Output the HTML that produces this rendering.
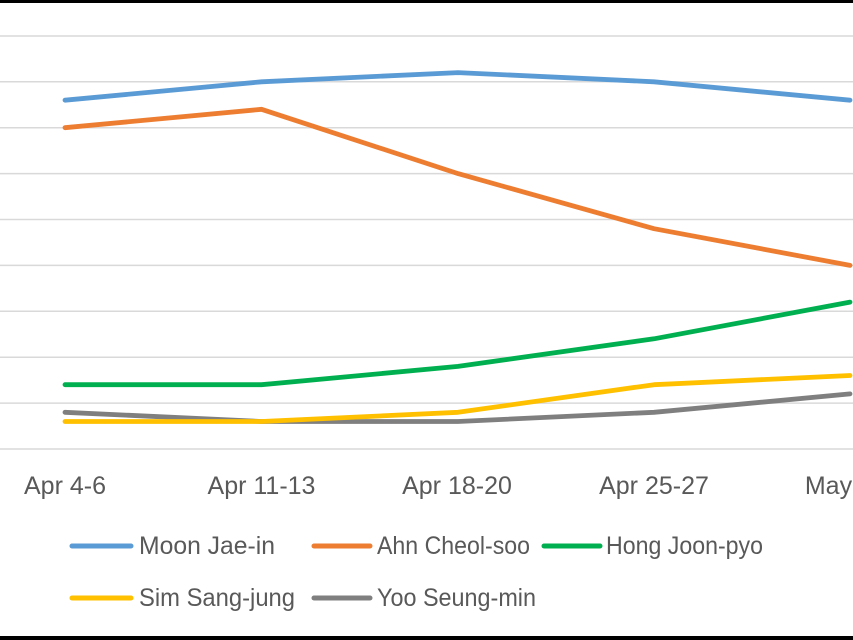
<!DOCTYPE html>
<html>
<head>
<meta charset="utf-8">
<style>
html,body{margin:0;padding:0;background:#fff;}
body{width:853px;height:640px;overflow:hidden;position:relative;}
svg{display:block;}
text{font-family:"Liberation Sans",sans-serif;font-size:25px;fill:#595959;}
</style>
</head>
<body>
<svg width="853" height="640" viewBox="0 0 853 640" xmlns="http://www.w3.org/2000/svg">
<rect x="0" y="0" width="853" height="640" fill="#fff"/>
<g stroke="#d9d9d9" stroke-width="1.5">
<line x1="0" y1="36" x2="853" y2="36"/>
<line x1="0" y1="81.8" x2="853" y2="81.8"/>
<line x1="0" y1="127.7" x2="853" y2="127.7"/>
<line x1="0" y1="173.6" x2="853" y2="173.6"/>
<line x1="0" y1="219.5" x2="853" y2="219.5"/>
<line x1="0" y1="265.4" x2="853" y2="265.4"/>
<line x1="0" y1="311.3" x2="853" y2="311.3"/>
<line x1="0" y1="357.2" x2="853" y2="357.2"/>
<line x1="0" y1="403.1" x2="853" y2="403.1"/>
<line x1="0" y1="449" x2="853" y2="449"/>
</g>
<g fill="none" stroke-width="4.8" stroke-linecap="round" stroke-linejoin="round">
<polyline stroke="#5b9bd5" points="65,100.2 261.5,81.8 458,72.6 654,81.8 850,100.2"/>
<polyline stroke="#ed7d31" points="65,127.7 261.5,109.3 458,173.6 654,228.7 850,265.4"/>
<polyline stroke="#7f7f7f" points="65,412.3 261.5,421.5 458,421.5 654,412.3 850,393.9"/>
<polyline stroke="#ffc000" points="65,421.5 261.5,421.5 458,412.3 654,384.7 850,375.5"/>
<polyline stroke="#00b050" points="65,384.7 261.5,384.7 458,366.4 654,338.8 850,302.1"/>
</g>
<g text-anchor="middle">
<text x="65" y="494">Apr 4-6</text>
<text x="261.5" y="494">Apr 11-13</text>
<text x="457" y="494">Apr 18-20</text>
<text x="654" y="494">Apr 25-27</text>
<text x="850" y="494">May 2-4</text>
</g>
<g stroke-width="5" stroke-linecap="round">
<line x1="72" y1="546" x2="131" y2="546" stroke="#5b9bd5"/>
<line x1="314" y1="546" x2="370" y2="546" stroke="#ed7d31"/>
<line x1="544" y1="546" x2="600" y2="546" stroke="#00b050"/>
<line x1="72" y1="598" x2="131" y2="598" stroke="#ffc000"/>
<line x1="314" y1="598" x2="370" y2="598" stroke="#7f7f7f"/>
</g>
<text x="139" y="554" textLength="136" lengthAdjust="spacingAndGlyphs">Moon Jae-in</text>
<text x="377" y="554" textLength="153" lengthAdjust="spacingAndGlyphs">Ahn Cheol-soo</text>
<text x="606" y="554" textLength="157" lengthAdjust="spacingAndGlyphs">Hong Joon-pyo</text>
<text x="139" y="606" textLength="156" lengthAdjust="spacingAndGlyphs">Sim Sang-jung</text>
<text x="377" y="606" textLength="159" lengthAdjust="spacingAndGlyphs">Yoo Seung-min</text>
<rect x="0" y="0" width="853" height="3" fill="#000"/>
<rect x="0" y="636" width="853" height="4" fill="#000"/>
</svg>
</body>
</html>
